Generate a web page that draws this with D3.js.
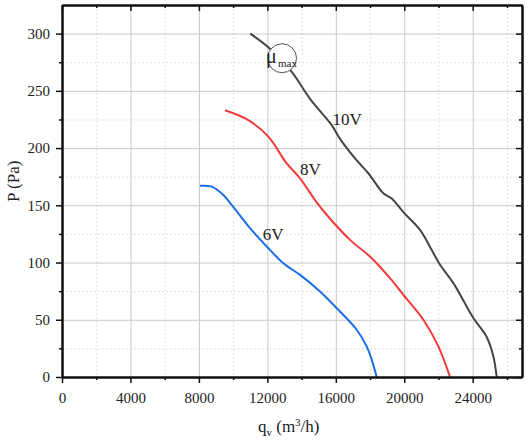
<!DOCTYPE html>
<html>
<head>
<meta charset="utf-8">
<script src="https://cdn.jsdelivr.net/npm/d3@7"></script>
<style>
  body { margin: 0; background: #fff; }
  svg { display: block; }
  text { font-family: "Liberation Serif", "DejaVu Serif", serif; fill: #222; }
  .grid-major line { stroke: #c9c9c9; stroke-width: 1; }
  .grid-minor line { stroke: #e2e2e2; stroke-width: 1; stroke-dasharray: 2,2; }
  .axis path, .axis line { stroke: #111; }
  .axis path { stroke-width: 2; }
  .axis line { stroke-width: 1.5; }
  .axis text { font-size: 15px; fill: #222; }
</style>
</head>
<body>
<script>
'use strict';

// flow q_v (m3/h) and pressure P (Pa)
const q10 = [11000, 12057, 13423, 14493, 15760, 16246, 17123, 17901, 18777, 19266, 19947, 20921, 21604, 22090, 22869, 24038, 24817, 25207, 25402];
const p10 = [300, 288, 266.5, 243, 220, 208, 191, 178, 160.5, 156, 144, 128.5, 111, 98, 82, 51.5, 35, 18, 0];

const q8 = [9526, 10888, 12057, 13131, 13909, 14786, 15564, 16831, 18100, 19169, 19947, 21116, 21993, 22674];
const p8 = [233, 224.4, 210, 186.6, 173.6, 154.6, 140, 119.8, 103.8, 86.3, 71.8, 50, 26.7, 0];

const q6 = [8065, 8748, 9428, 9917, 10987, 11963, 12933, 13909, 15077, 15954, 17220, 17803, 18100, 18392];
const p6 = [167, 166.3, 159, 150.3, 130, 114, 99.4, 89.2, 74.7, 61.6, 41.3, 26.7, 15, 0];

const seriesNames = ['10V', '8V', '6V'];
const labelQ = [15800, 13909, 11729];
const labelP = [220, 176.5, 119.8];
const umaxQ = 12857, umaxP = 278.5;

const xMajor = [0, 4000, 8000, 12000, 16000, 20000, 24000];
const xMinor = [2000, 6000, 10000, 14000, 18000, 22000, 26000];
const yMajor = [0, 50, 100, 150, 200, 250, 300];
const yMinor = [25, 75, 125, 175, 225, 275];

const W = 528, H = 441;
const margin = {top: 5, right: 6, bottom: 64, left: 62};
const width = W - margin.left - margin.right,
      height = H - margin.top - margin.bottom;

const svg = d3.select('body').append('svg').attr('width', W).attr('height', H);
const g = svg.append('g').attr('transform', `translate(${margin.left},${margin.top})`);

const x = d3.scaleLinear().domain([0, 26880]).range([0, width]);
const y = d3.scaleLinear().domain([0, 325]).range([height, 0]);

// grid lines
g.append('g').attr('class', 'grid-minor')
  .call(d3.axisBottom(x).tickValues(xMinor).tickSize(height).tickFormat(''))
  .call(s => s.select('.domain').remove());
g.append('g').attr('class', 'grid-minor')
  .call(d3.axisLeft(y).tickValues(yMinor).tickSize(-width).tickFormat(''))
  .call(s => s.select('.domain').remove());
g.append('g').attr('class', 'grid-major')
  .call(d3.axisBottom(x).tickValues(xMajor.slice(1)).tickSize(height).tickFormat(''))
  .call(s => s.select('.domain').remove());
g.append('g').attr('class', 'grid-major')
  .call(d3.axisLeft(y).tickValues(yMajor.slice(1)).tickSize(-width).tickFormat(''))
  .call(s => s.select('.domain').remove());

// curves
const line = d3.line()
  .x(d => x(d[0]))
  .y(d => y(d[1]))
  .curve(d3.curveCatmullRom.alpha(0.5));

const curves = [
  {q: q10, p: p10, color: '#454545'},
  {q: q8, p: p8, color: '#f23a3a'},
  {q: q6, p: p6, color: '#1a6fe6'}
];

curves.forEach(c => {
  g.append('path')
    .datum(c.q.map((v, i) => [v, c.p[i]]))
    .attr('fill', 'none')
    .attr('stroke', c.color)
    .attr('stroke-width', 2)
    .attr('d', line);
});

// series labels
seriesNames.forEach((n, i) => {
  g.append('text')
    .attr('x', x(labelQ[i]))
    .attr('y', y(labelP[i]))
    .style('font-size', '17px')
    .text(n);
});

// u max marker
const um = g.append('g').attr('transform', `translate(${x(umaxQ)},${y(umaxP)})`);
um.append('circle').attr('r', 14.5).attr('fill', '#fff').attr('stroke', '#555').attr('stroke-width', 1);
um.append('text').attr('x', -16).attr('y', 5).style('font-size', '20px').text('μ');
um.append('text').attr('x', -4).attr('y', 9).style('font-size', '11px').text('max');

// axes
g.append('g').attr('class', 'axis')
  .attr('transform', `translate(0,${height})`)
  .call(d3.axisBottom(x).tickValues(xMinor).tickSize(3).tickSizeOuter(0).tickFormat(''));
g.append('g').attr('class', 'axis')
  .attr('transform', `translate(0,${height})`)
  .call(d3.axisBottom(x).tickValues(xMajor).tickSize(6).tickSizeOuter(0).tickPadding(9).tickFormat(d3.format('d')));

g.append('g').attr('class', 'axis')
  .call(d3.axisTop(x).tickValues(xMinor).tickSize(-3).tickSizeOuter(0).tickFormat(''));
g.append('g').attr('class', 'axis')
  .call(d3.axisTop(x).tickValues(xMajor).tickSize(-6).tickSizeOuter(0).tickFormat(''));

g.append('g').attr('class', 'axis')
  .call(d3.axisLeft(y).tickValues(yMinor).tickSize(3).tickSizeOuter(0).tickFormat(''));
g.append('g').attr('class', 'axis')
  .call(d3.axisLeft(y).tickValues(yMajor).tickSize(6).tickSizeOuter(0).tickPadding(6));

g.append('g').attr('class', 'axis')
  .attr('transform', `translate(${width},0)`)
  .call(d3.axisRight(y).tickValues(yMinor).tickSize(-3).tickSizeOuter(0).tickFormat(''));
g.append('g').attr('class', 'axis')
  .attr('transform', `translate(${width},0)`)
  .call(d3.axisRight(y).tickValues(yMajor).tickSize(-6).tickSizeOuter(0).tickFormat(''));

// axis titles
svg.append('text')
  .attr('transform', `translate(19,${margin.top + y(150) - 24}) rotate(-90)`)
  .attr('text-anchor', 'middle')
  .style('font-size', '17px')
  .text('P (Pa)');

const xt = svg.append('text')
  .attr('x', margin.left + x(13250))
  .attr('y', 432)
  .attr('text-anchor', 'middle')
  .style('font-size', '17px');
xt.append('tspan').text('q');
xt.append('tspan').attr('dy', 4).style('font-size', '11px').text('v');
xt.append('tspan').attr('dy', -4).text(' (m');
xt.append('tspan').attr('dy', -6).style('font-size', '11px').text('3');
xt.append('tspan').attr('dy', 6).text('/h)');
</script>
</body>
</html>
